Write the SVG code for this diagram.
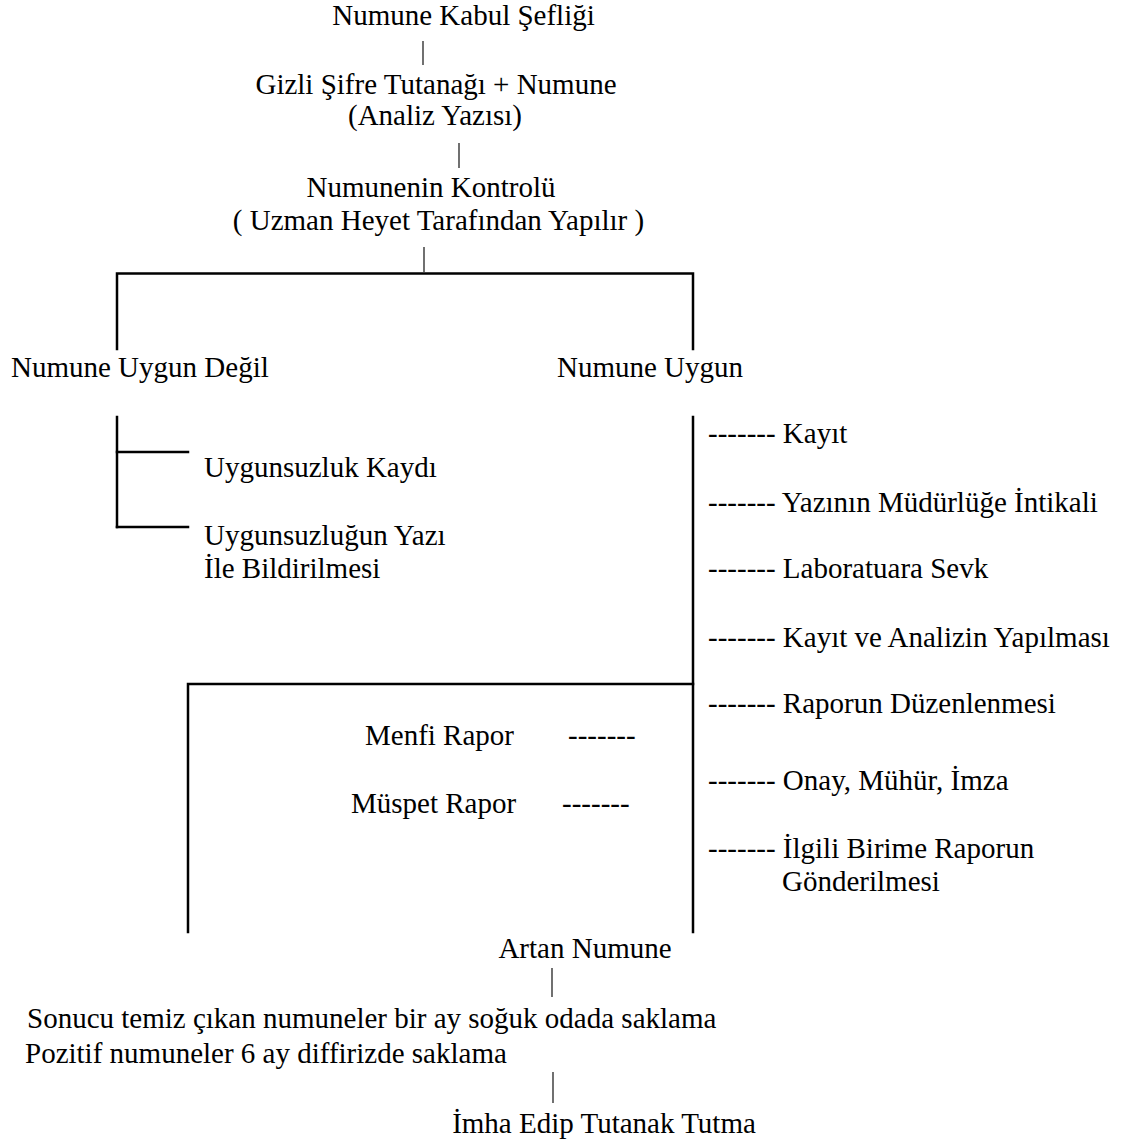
<svg xmlns="http://www.w3.org/2000/svg" width="1126" height="1145" viewBox="0 0 1126 1145">
<style>
text{font-family:"Liberation Serif","Times New Roman",serif;font-size:29px;fill:#000}
.c{text-anchor:middle}
.ln{stroke:#000;stroke-width:2.5;fill:none;stroke-linecap:square}
.pp{stroke:#111;stroke-width:1.2;fill:none}
</style>
<rect width="1126" height="1145" fill="#fff"/>
<g id="connectors">
<line class="pp" x1="423" y1="41" x2="423" y2="65"/>
<line class="pp" x1="459" y1="143" x2="459" y2="168"/>
<line class="pp" x1="424" y1="247" x2="424" y2="272"/>
<polyline class="ln" points="117,349 117,273.5 693,273.5 693,349"/>
<line class="ln" x1="117" y1="417" x2="117" y2="527"/>
<line class="ln" x1="117" y1="452" x2="188" y2="452"/>
<line class="ln" x1="117" y1="527" x2="188" y2="527"/>
<line class="ln" x1="693" y1="417" x2="693" y2="932"/>
<polyline class="ln" points="188,932 188,684 693,684"/>
<line class="pp" x1="552" y1="968" x2="552" y2="997"/>
<line class="pp" x1="553" y1="1072" x2="553" y2="1103"/>
</g>
<g id="n-kabul"><text class="c" x="463.5" y="25">Numune Kabul Şefliği</text></g>
<g id="n-gizli"><text class="c" x="436" y="94">Gizli Şifre Tutanağı + Numune</text><text class="c" x="435" y="125">(Analiz Yazısı)</text></g>
<g id="n-kontrol"><text class="c" x="431" y="197">Numunenin Kontrolü</text><text class="c" x="438.5" y="230">( Uzman Heyet Tarafından Yapılır )</text></g>
<g id="n-uygundegil"><text x="11" y="377">Numune Uygun Değil</text></g>
<g id="n-uygun"><text x="557" y="377">Numune Uygun</text></g>
<g id="n-kaydi"><text x="204" y="477">Uygunsuzluk Kaydı</text></g>
<g id="n-bildir"><text x="204" y="545">Uygunsuzluğun Yazı</text><text x="204" y="578">İle Bildirilmesi</text></g>
<g id="n-kayit"><text x="708" y="443">------- Kayıt</text></g>
<g id="n-intikal"><text x="708" y="512">------- Yazının Müdürlüğe İntikali</text></g>
<g id="n-sevk"><text x="708" y="578">------- Laboratuara Sevk</text></g>
<g id="n-analiz"><text x="708" y="647">------- Kayıt ve Analizin Yapılması</text></g>
<g id="n-rapor"><text x="708" y="713">------- Raporun Düzenlenmesi</text></g>
<g id="n-onay"><text x="708" y="790">------- Onay, Mühür, İmza</text></g>
<g id="n-gonder"><text x="708" y="858">------- İlgili Birime Raporun</text><text x="782" y="891">Gönderilmesi</text></g>
<g id="n-menfi"><text x="365" y="745">Menfi Rapor</text><text x="568" y="745">-------</text></g>
<g id="n-muspet"><text x="351" y="813">Müspet Rapor</text><text x="562" y="813">-------</text></g>
<g id="n-artan"><text class="c" x="585" y="958">Artan Numune</text></g>
<g id="n-saklama"><text x="27" y="1028">Sonucu temiz çıkan numuneler bir ay soğuk odada saklama</text><text x="25" y="1063">Pozitif numuneler 6 ay diffirizde saklama</text></g>
<g id="n-imha"><text class="c" x="604" y="1133">İmha Edip Tutanak Tutma</text></g>
</svg>
